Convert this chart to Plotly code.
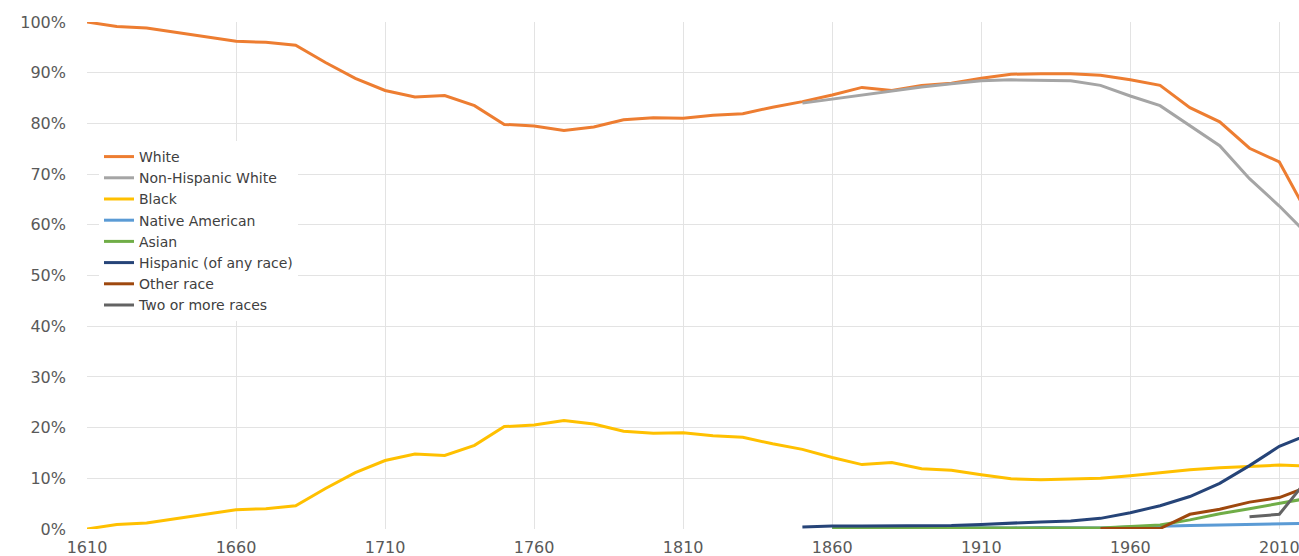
import plotly.graph_objects as go

years = list(range(1610, 2030, 10))

white = [100, 99.1, 98.8, 97.9, 97.0, 96.2, 96.0, 95.4, 92.0, 88.9, 86.5, 85.2, 85.5,
         83.5, 79.8, 79.5, 78.6, 79.3, 80.7, 81.1, 81.0, 81.6, 81.9, 83.2, 84.3, 85.6,
         87.1, 86.5, 87.5, 87.9, 88.9, 89.7, 89.8, 89.8, 89.5, 88.6, 87.5, 83.1, 80.3,
         75.1, 72.4, 61.6]
black = [0, 0.9, 1.2, 2.1, 3.0, 3.8, 4.0, 4.6, 8.0, 11.1, 13.5, 14.8, 14.5, 16.5, 20.2,
         20.5, 21.4, 20.7, 19.3, 18.9, 19.0, 18.4, 18.1, 16.8, 15.7, 14.1, 12.7, 13.1,
         11.9, 11.6, 10.7, 9.9, 9.7, 9.8, 10.0, 10.5, 11.1, 11.7, 12.1, 12.3, 12.6, 12.4]

nhw_years = list(range(1850, 2030, 10))
nh_white = [84.0, 84.8, 85.6, 86.4, 87.2, 87.8, 88.4, 88.6, 88.5, 88.4, 87.5, 85.4, 83.5,
            79.6, 75.6, 69.1, 63.7, 57.8]

hisp_years = list(range(1850, 2030, 10))
hispanic = [0.4, 0.6, 0.6, 0.6, 0.6, 0.7, 0.9, 1.2, 1.4, 1.6, 2.1, 3.2, 4.6, 6.4, 9.0,
            12.5, 16.3, 18.7]

min_years = list(range(1860, 2030, 10))
native = [0.1, 0.1, 0.1, 0.4, 0.3, 0.3, 0.2, 0.3, 0.3, 0.2, 0.4, 0.6, 0.7, 0.8, 0.9,
          0.9, 1.1]
asian = [0.1, 0.2, 0.2, 0.2, 0.2, 0.2, 0.2, 0.2, 0.2, 0.2, 0.5, 0.8, 1.8, 3.0, 4.0,
         5.0, 6.1]

other_years = list(range(1950, 2030, 10))
other = [0.1, 0.1, 0.1, 2.9, 3.9, 5.3, 6.2, 8.4]

two_years = [2000, 2010, 2020]
two_more = [2.4, 2.9, 10.2]

series = [
    ("White", years, white, "#ED7D31"),
    ("Non-Hispanic White", nhw_years, nh_white, "#A5A5A5"),
    ("Black", years, black, "#FFC000"),
    ("Native American", min_years, native, "#5B9BD5"),
    ("Asian", min_years, asian, "#70AD47"),
    ("Hispanic (of any race)", hisp_years, hispanic, "#264478"),
    ("Other race", other_years, other, "#9E480E"),
    ("Two or more races", two_years, two_more, "#636363"),
]

fig = go.Figure()
for name, xs, ys, color in series:
    fig.add_trace(go.Scatter(
        x=xs, y=[v / 100 for v in ys], name=name, mode="lines",
        line=dict(color=color, width=3), cliponaxis=True,
    ))

tick_years = list(range(1610, 2011, 50))
fig.update_layout(
    width=1299, height=556,
    margin=dict(l=87, r=0, t=22, b=27),
    paper_bgcolor="white", plot_bgcolor="white",
    font=dict(family="DejaVu Sans", color="#595959"),
    showlegend=True,
    legend=dict(
        x=0.0099, y=0.7653, xanchor="left", yanchor="top",
        bgcolor="white", borderwidth=0,
        font=dict(family="DejaVu Sans", size=14, color="#404040"),
        tracegroupgap=0,
    ),
    xaxis=dict(
        range=[1610, 2016.6], tickvals=tick_years,
        ticktext=[str(y) for y in tick_years],
        showgrid=True, gridcolor="#E3E3E3", gridwidth=1,
        zeroline=False, showline=False, ticks="",
        tickfont=dict(size=16, color="#595959"), ticklabelstandoff=7,
        ticklabeloverflow="allow",
    ),
    yaxis=dict(
        range=[0, 1], dtick=0.1, tickformat=".0%",
        showgrid=True, gridcolor="#E3E3E3", gridwidth=1,
        zeroline=False, showline=False, ticks="",
        tickfont=dict(size=16, color="#595959"), ticklabelstandoff=20,
    ),
)

fig.write_html(
    "out.html",
    config={"displayModeBar": False},
    post_script="document.body.style.margin='0';document.body.style.overflow='hidden';",
)
